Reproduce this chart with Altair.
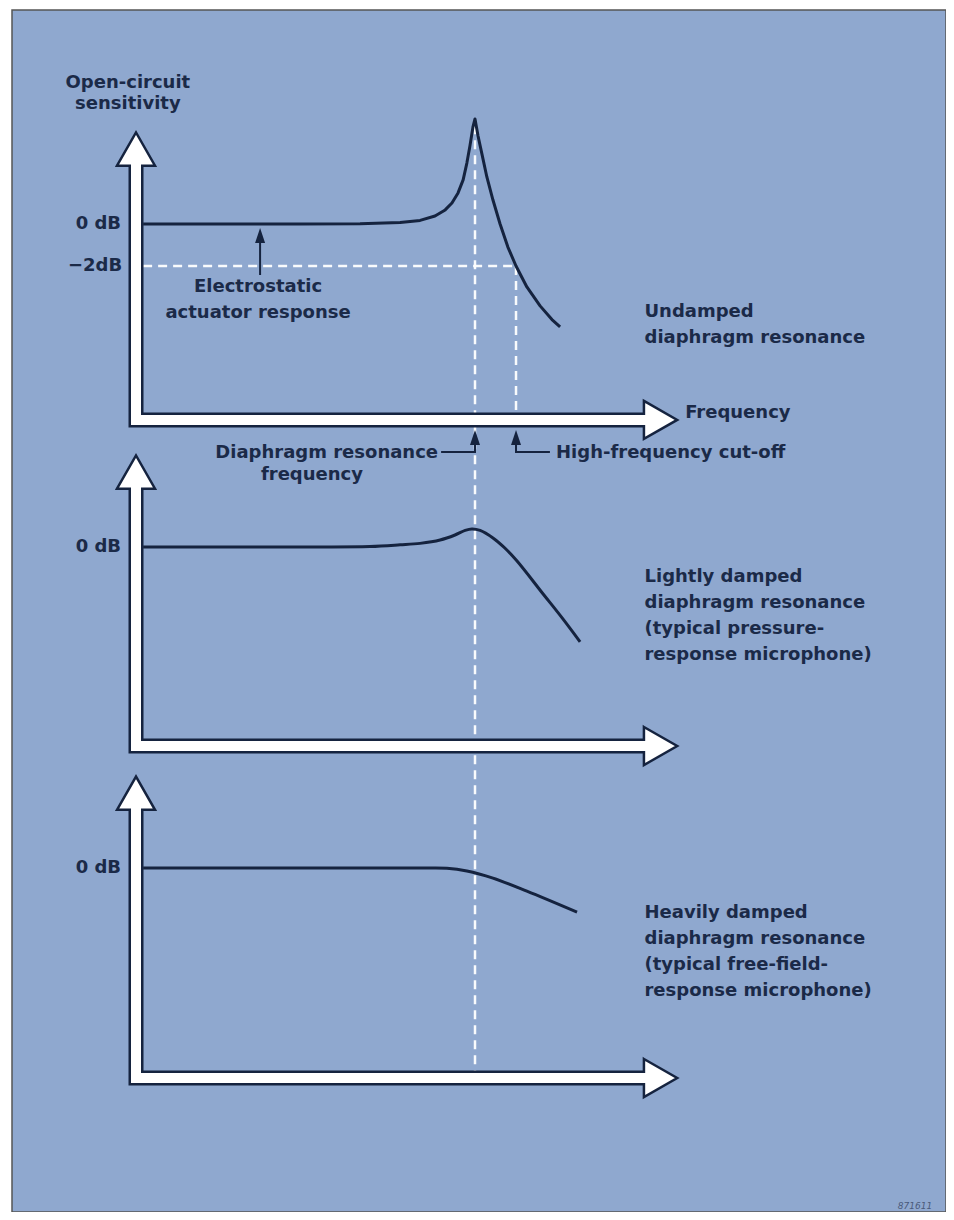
import altair as alt
import pandas as pd

# ---------------- data (frequency relative to resonance f/f0, sensitivity in dB) ----------------
PANELS = ["Undamped", "Lightly damped", "Heavily damped"]

UND_F = [0.021, 0.484, 0.661, 0.779, 0.838, 0.882, 0.912, 0.932, 0.950, 0.965, 0.976, 0.985, 0.994, 1.0,
         1.009, 1.021, 1.035, 1.053, 1.074, 1.097, 1.121, 1.153, 1.192, 1.227, 1.251]
UND_DB = [0.0, 0.0, 0.01, 0.07, 0.17, 0.38, 0.67, 1.0, 1.48, 2.10, 2.90, 3.71, 4.62, 5.0,
          4.19, 3.29, 2.24, 1.14, 0.0, -1.10, -2.0, -3.0, -3.90, -4.55, -4.90]

LIGHT_F = [0.021, 0.484, 0.690, 0.779, 0.838, 0.897, 0.941, 0.971, 0.991, 1.015, 1.053, 1.088, 1.124, 1.201,
           1.257, 1.310]
LIGHT_DB = [0.0, 0.0, 0.02, 0.1, 0.17, 0.33, 0.57, 0.79, 0.86, 0.79, 0.43, -0.05, -0.67, -2.24, -3.38, -4.52]

HEAVY_F = [0.021, 0.484, 0.838, 0.917, 0.976, 1.053, 1.153, 1.301]
HEAVY_DB = [0.0, 0.0, 0.0, -0.01, -0.14, -0.48, -1.10, -2.1]

RESONANCE_F = 1.0
CUTOFF_F = 1.121
CUTOFF_DB = -2.0
PEAK_DB = 5.0

TICK_LABELS = ["0 dB", "\u22122dB"]
Y_TITLE = ["Open-circuit", "sensitivity"]
X_TITLE = "Frequency"
ACTUATOR_LABEL = ["Electrostatic", "actuator response"]
RES_LABEL = ["Diaphragm resonance", "frequency"]
CUTOFF_LABEL = "High-frequency cut-off"
PANEL_LABELS = [
    ["Undamped", "diaphragm resonance"],
    ["Lightly damped", "diaphragm resonance", "(typical pressure-", "response microphone)"],
    ["Heavily damped", "diaphragm resonance", "(typical free-field-", "response microphone)"],
]
FIG_ID = "871611"

# ---------------- layout / style ----------------
BLUE = "#8FA8CF"
DARK = "#15233F"
TEXT = "#1B2A48"
FONT = "DejaVu Sans"
FS = 18
INTERP = ["linear", "catmull-rom", "catmull-rom"]

PANEL_SHIFT = [0.0, -15.38, -30.67]      # vertical placement of each panel (dB units)
AXIS_TIP = 4.4                            # y-arrow tip (panel dB)
AXIS_BASE = [-9.33, -9.48, -10.0]         # x-axis level (panel dB)
X_TIP = 1.599                             # x-arrow tip (f units)
PX_Y = 1 / 21.0                           # one pixel in dB units
PX_X = 1 / 339.0                          # one pixel in f units
LABEL_LINE = 26 * PX_Y

xs = alt.Scale(domain=[-0.3658, 2.3894], nice=False, zero=False)
ys = alt.Scale(domain=[-47.05, 10.19], nice=False, zero=False)
X = alt.X("f:Q", scale=xs, axis=None)
Y = alt.Y("y:Q", scale=ys, axis=None)

# curves
curve_frames = []
for p, (fs, dbs) in enumerate([(UND_F, UND_DB), (LIGHT_F, LIGHT_DB), (HEAVY_F, HEAVY_DB)]):
    curve_frames.append(pd.DataFrame({
        "f": fs, "y": [d + PANEL_SHIFT[p] for d in dbs], "o": list(range(len(fs)))
    }))

# axis L-shapes
head_up_c = 17.5 * PX_Y
head_rt_c = 17.5 * PX_X
axis_rows, up_heads, rt_heads = [], [], []
for p in range(3):
    base = AXIS_BASE[p] + PANEL_SHIFT[p]
    tip = AXIS_TIP + PANEL_SHIFT[p]
    axis_rows += [
        {"panel": PANELS[p], "f": 0.0, "y": tip - head_up_c, "o": 0},
        {"panel": PANELS[p], "f": 0.0, "y": base, "o": 1},
        {"panel": PANELS[p], "f": X_TIP - head_rt_c, "y": base, "o": 2},
    ]
    up_heads.append({"f": 0.0, "y": tip - head_up_c})
    rt_heads.append({"f": X_TIP - head_rt_c, "y": base})
axis_df = pd.DataFrame(axis_rows)
up_df = pd.DataFrame(up_heads)
rt_df = pd.DataFrame(rt_heads)

# dashed guide lines
bottom = AXIS_BASE[2] + PANEL_SHIFT[2]
dash_df = pd.DataFrame([
    {"id": "h", "f": 0.021, "y": CUTOFF_DB, "o": 0},
    {"id": "h", "f": CUTOFF_F, "y": CUTOFF_DB, "o": 1},
    {"id": "c", "f": CUTOFF_F, "y": CUTOFF_DB, "o": 0},
    {"id": "c", "f": CUTOFF_F, "y": AXIS_BASE[0], "o": 1},
    {"id": "r", "f": RESONANCE_F, "y": PEAK_DB - 0.3, "o": 0},
    {"id": "r", "f": RESONANCE_F, "y": bottom, "o": 1},
])

# pointer arrows
ACT_F = 0.366
ptr_tip = AXIS_BASE[0] - 10 * PX_Y
ptr_low = AXIS_BASE[0] - 32 * PX_Y
leader_df = pd.DataFrame([
    {"id": "a", "f": ACT_F, "y": -2.43, "o": 0},
    {"id": "a", "f": ACT_F, "y": -0.19 - 7 * PX_Y, "o": 1},
    {"id": "r", "f": 0.900, "y": ptr_low, "o": 0},
    {"id": "r", "f": RESONANCE_F, "y": ptr_low, "o": 1},
    {"id": "r", "f": RESONANCE_F, "y": ptr_tip - 7 * PX_Y, "o": 2},
    {"id": "c", "f": 1.221, "y": ptr_low, "o": 0},
    {"id": "c", "f": CUTOFF_F, "y": ptr_low, "o": 1},
    {"id": "c", "f": CUTOFF_F, "y": ptr_tip - 7 * PX_Y, "o": 2},
])
ptr_heads = pd.DataFrame([
    {"f": ACT_F, "y": -0.19 - 7.5 * PX_Y},
    {"f": RESONANCE_F, "y": ptr_tip - 7.5 * PX_Y},
    {"f": CUTOFF_F, "y": ptr_tip - 7.5 * PX_Y},
])

# texts
right_t, left_t, center_t = [], [], []
for p in range(3):
    right_t.append({"f": -0.044, "y": 0.0 + PANEL_SHIFT[p], "t": TICK_LABELS[0]})
right_t.append({"f": -0.041, "y": CUTOFF_DB, "t": TICK_LABELS[1]})
right_t.append({"f": 0.891, "y": -10.9, "t": RES_LABEL[0]})
center_t += [
    {"f": -0.024, "y": 6.71, "t": Y_TITLE[0]},
    {"f": -0.024, "y": 5.71, "t": Y_TITLE[1]},
    {"f": 0.36, "y": -3.0, "t": ACTUATOR_LABEL[0]},
    {"f": 0.36, "y": -3.0 - LABEL_LINE, "t": ACTUATOR_LABEL[1]},
    {"f": 0.519, "y": -11.95, "t": RES_LABEL[1]},
]
left_t += [
    {"f": 1.62, "y": -9.0, "t": X_TITLE},
    {"f": 1.239, "y": -10.9, "t": CUTOFF_LABEL},
]
first_line = [-4.19, -1.43, -2.14]
for p in range(3):
    for k, line in enumerate(PANEL_LABELS[p]):
        left_t.append({"f": 1.50, "y": first_line[p] - k * LABEL_LINE + PANEL_SHIFT[p], "t": line})

txt_kw = dict(font=FONT, fontSize=FS, fontWeight="bold", color=TEXT, baseline="middle")

layers = [
    alt.Chart(dash_df).mark_line(color="white", strokeWidth=2.5, strokeDash=[9, 6], opacity=0.95)
    .encode(x=X, y=Y, detail="id:N", order="o:Q"),
    alt.Chart(axis_df).mark_line(color=DARK, strokeWidth=15, strokeJoin="miter", strokeCap="butt")
    .encode(x=X, y=Y, detail="panel:N", order="o:Q"),
    alt.Chart(up_df).mark_point(shape="M-1,0.875L0,-0.875L1,0.875Z", filled=True, fill="white",
                                stroke=DARK, strokeWidth=2.5, opacity=1, size=1444)
    .encode(x=X, y=Y),
    alt.Chart(rt_df).mark_point(shape="M-0.875,-1L0.875,0L-0.875,1Z", filled=True, fill="white",
                                stroke=DARK, strokeWidth=2.5, opacity=1, size=1444)
    .encode(x=X, y=Y),
    alt.Chart(axis_df).mark_line(color="white", strokeWidth=10, strokeJoin="miter", strokeCap="butt")
    .encode(x=X, y=Y, detail="panel:N", order="o:Q"),
]
for p in range(3):
    layers.append(
        alt.Chart(curve_frames[p]).mark_line(color=DARK, strokeWidth=3, interpolate=INTERP[p],
                                             strokeJoin="round")
        .encode(x=X, y=Y, order="o:Q")
    )
layers += [
    alt.Chart(leader_df).mark_line(color=DARK, strokeWidth=2)
    .encode(x=X, y=Y, detail="id:N", order="o:Q"),
    alt.Chart(ptr_heads).mark_point(shape="M-0.667,1L0,-1L0.667,1Z", filled=True, fill=DARK,
                                    opacity=1, size=225)
    .encode(x=X, y=Y),
    alt.Chart(pd.DataFrame(right_t)).mark_text(align="right", **txt_kw).encode(x=X, y=Y, text="t:N"),
    alt.Chart(pd.DataFrame(left_t)).mark_text(align="left", **txt_kw).encode(x=X, y=Y, text="t:N"),
    alt.Chart(pd.DataFrame(center_t)).mark_text(align="center", **txt_kw).encode(x=X, y=Y, text="t:N"),
    alt.Chart(pd.DataFrame([{"f": 2.298, "y": -46.76, "t": FIG_ID}])).mark_text(
        font=FONT, fontSize=9, fontStyle="italic", color="#4A5A7A", align="center", baseline="middle"
    ).encode(x=X, y=Y, text="t:N"),
]

chart = alt.layer(*layers).properties(
    width=938, height=1204,
    autosize=alt.AutoSizeParams(type="fit", contains="padding"),
    padding={"left": 4, "top": 2, "right": 0, "bottom": 0},
    background="white",
).configure_view(fill=BLUE, stroke="#555555", strokeWidth=1.5)

chart.save("out.html", embed_options={"renderer": "svg", "actions": False})
